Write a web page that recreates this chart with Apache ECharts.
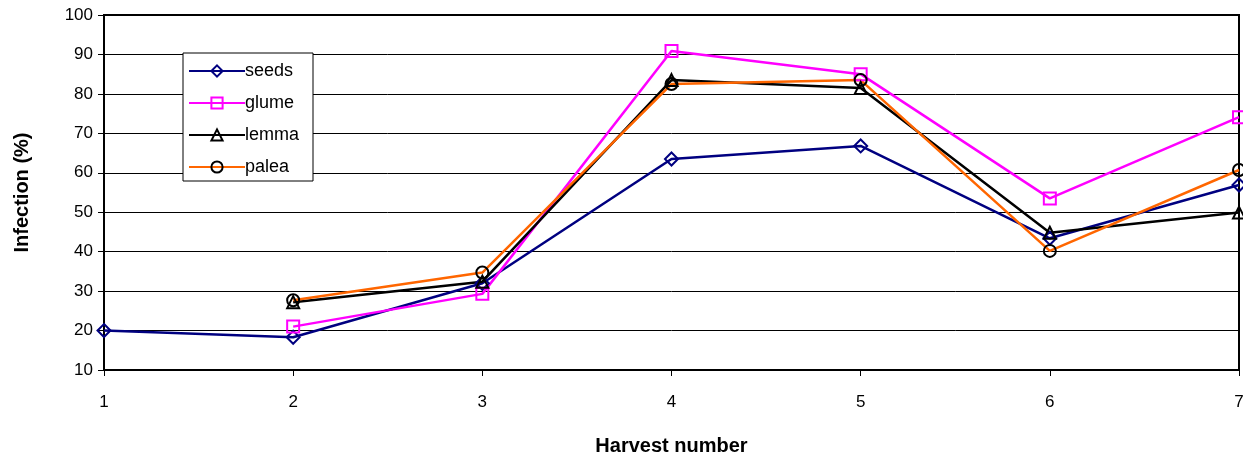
<!DOCTYPE html>
<html><head><meta charset="utf-8">
<script src="https://cdn.jsdelivr.net/npm/echarts@6/dist/echarts.min.js"></script>
<style>html,body{margin:0;padding:0;background:#fff}#c{width:1243px;height:457px}</style>
</head><body><div id="c"></div>
<script>
const categories = ['1','2','3','4','5','6','7'];
const seeds = [20, 18.3, 32, 63.5, 66.8, 43.4, 56.9];
const glume = [null, 21, 29.3, 90.9, 85, 53.5, 74.1];
const lemma = [null, 27.2, 32.4, 83.5, 81.5, 44.8, 49.9];
const palea = [null, 27.7, 34.7, 82.5, 83.5, 40.2, 60.7];
const yTicks = {min: 10, max: 100, interval: 10};

const F = 'Liberation Sans, Arial, sans-serif';
function mk(name, data, lineColor, markColor, symbol, size) {
  return {
    name, type: 'line', data, symbol, symbolSize: size, connectNulls: false,
    showAllSymbol: true,
    lineStyle: {color: lineColor, width: 2.5},
    itemStyle: {color: 'rgba(0,0,0,0)', borderColor: markColor, borderWidth: 2},
    emphasis: {disabled: true}
  };
}
const chart = echarts.init(document.getElementById('c'), null, {renderer: 'canvas'});
chart.setOption({
  animation: false,
  backgroundColor: '#fff',
  grid: {left: 104, top: 15, right: 4, bottom: 87, show: true, borderColor: '#000', borderWidth: 2,
         outerBoundsMode: 'none', containLabel: false},
  legend: {
    orient: 'vertical', left: 183, top: 53,
    padding: [9, 14, 5, 5], itemGap: 14, itemWidth: 56, itemHeight: 14,
    borderColor: '#000', borderWidth: 1, backgroundColor: '#fff',
    textStyle: {fontFamily: F, fontSize: 18, color: '#000', padding: [0, 0, 0, -5]},
    data: ['seeds', 'glume', 'lemma', 'palea']
  },
  xAxis: {
    type: 'category', data: categories, boundaryGap: false,
    name: 'Harvest number', nameLocation: 'middle', nameGap: 66,
    nameTextStyle: {fontFamily: F, fontSize: 20, fontWeight: 'bold', color: '#000'},
    axisLine: {lineStyle: {color: '#000', width: 2}},
    axisTick: {show: true, length: 6, lineStyle: {color: '#000', width: 1}},
    axisLabel: {fontFamily: F, fontSize: 17, color: '#000', margin: 24},
    splitLine: {show: false}
  },
  yAxis: {
    type: 'value', min: yTicks.min, max: yTicks.max, interval: yTicks.interval,
    name: 'Infection (%)', nameLocation: 'middle', nameGap: 72,
    nameTextStyle: {fontFamily: F, fontSize: 20, fontWeight: 'bold', color: '#000'},
    axisLine: {show: true, lineStyle: {color: '#000', width: 2}},
    axisTick: {show: true, length: 6, lineStyle: {color: '#000', width: 1}},
    axisLabel: {fontFamily: F, fontSize: 17, color: '#000', margin: 11},
    splitLine: {show: true, lineStyle: {color: '#000', width: 1}}
  },
  series: [
    mk('seeds', seeds, '#000080', '#000080', 'diamond', 13),
    mk('glume', glume, '#FF00FF', '#FF00FF', 'rect', 12),
    mk('lemma', lemma, '#000000', '#000000', 'triangle', 12),
    mk('palea', palea, '#FF6600', '#000000', 'circle', 12)
  ]
});
</script></body></html>
